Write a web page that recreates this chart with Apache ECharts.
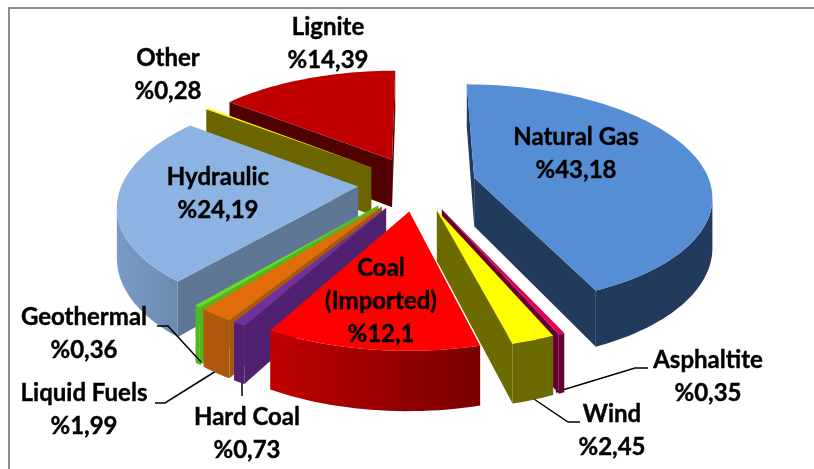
<!DOCTYPE html>
<html>
<head>
<meta charset="utf-8">
<style>
html, body { margin: 0; padding: 0; background: #fff; }
#main { width: 814px; height: 469px; }
</style>
<script src="https://cdn.jsdelivr.net/npm/echarts@6/dist/echarts.min.js"></script>
</head>
<body>
<div id="main"></div>
<script>
// clockwise from the top of the pie
var categories = ['Natural Gas', 'Asphaltite', 'Wind', 'Coal\n(Imported)', 'Hard Coal', 'Liquid Fuels', 'Geothermal', 'Hydraulic', 'Other', 'Lignite'];
var shares = [43.18, 0.35, 2.45, 12.1, 0.73, 1.99, 0.36, 24.19, 0.28, 14.39];

var topColors = ['#558ed5', '#e6005c', '#ffff00', '#ff0000', '#7030a0', '#e36c0a', '#66dd22', '#8db3e2', '#ffff00', '#c00000'];
var cutColors = ['#223a5c', '#660033', '#6b6b00', '#800000', '#4f2170', '#a8570e', '#4fb81e', '#5f7795', '#6b6500', '#4f0000'];
var arcStart = ['#223a5c', '#660033', '#6b6b00', '#780000', '#4f2170', '#a8570e', '#4fb81e', '#6b8ab0', '#6b6500', '#4f0000'];
var arcEnd = ['#223a5c', '#660033', '#6b6b00', '#c00000', '#4f2170', '#b5590c', '#4fb81e', '#7a9bc8', '#6b6500', '#4f0000'];

// back to front
var paintOrder = [9, 8, 7, 0, 6, 5, 4, 1, 2, 3];

// label centres, same order as categories
var labelX = [576, 708, 612, 381, 247, 84, 84, 218, 168, 328];
var labelY = [154, 377, 431, 301, 434, 410, 334, 194, 75, 44];

var leaderLines = [
    [[157, 326], [168, 326], [201, 362]],
    [[155, 403], [165, 403], [224, 366]],
    [[242, 396], [242, 375]],
    [[580, 422], [568, 422], [528, 395]],
    [[648, 368], [635, 368], [556, 392]]
];
// the geothermal line runs over the hydraulic wall, the others start under their slice
var leaderZ = [20, 1, 1, 1, 1];

// pie projection
var cx = 417, cy = 183.5, radiusX = 236, radiusY = 109;
var perspective = 0.15, explode = 0.25, depth = 49;

function project(x, y) {
    var w = 1 + perspective * y;
    return {
        x: cx + radiusX * x / w,
        y: cy - radiusY * y / w,
        d: depth / w
    };
}

var total = shares.reduce(function(a, b) { return a + b; }, 0);

function sliceOutline(index) {
    var before = 0;
    for (var i = 0; i < index; i++) before += shares[i];
    var a0 = before / total * Math.PI * 2;
    var a1 = (before + shares[index]) / total * Math.PI * 2;
    var mid = (a0 + a1) / 2;
    var ox = explode * Math.sin(mid), oy = explode * Math.cos(mid);
    var steps = Math.max(2, Math.ceil((a1 - a0) / 0.03));
    var pts = [project(ox, oy)];
    for (var s = 0; s <= steps; s++) {
        var a = a0 + (a1 - a0) * s / steps;
        pts.push(project(ox + Math.sin(a), oy + Math.cos(a)));
    }
    return pts;
}

function wallPoints(run) {
    var upper = run.map(function(p) { return [p.x, p.y]; });
    var lower = run.slice().reverse().map(function(p) { return [p.x, p.y + p.d]; });
    return upper.concat(lower);
}

function renderSlice(params, api) {
    var index = api.value(0);
    var pts = sliceOutline(index);
    var children = [];
    var n = pts.length;

    // a wall shows only where the clockwise outline runs leftwards
    function cutWall(p, q) {
        if (q.x < p.x) {
            children.push({
                type: 'polygon',
                shape: { points: wallPoints([p, q]) },
                style: { fill: cutColors[index] }
            });
        }
    }
    cutWall(pts[0], pts[1]);
    cutWall(pts[n - 1], pts[0]);

    var run = [];
    for (var i = 1; i < n; i++) {
        if (i < n - 1 && pts[i + 1].x < pts[i].x) {
            run.push(pts[i]);
        } else if (run.length) {
            run.push(pts[i]);
            children.push({
                type: 'polygon',
                shape: { points: wallPoints(run) },
                style: {
                    fill: new echarts.graphic.LinearGradient(1, 0, 0, 0, [
                        { offset: 0, color: arcStart[index] },
                        { offset: 1, color: arcEnd[index] }
                    ])
                }
            });
            run = [];
        }
    }

    children.push({
        type: 'polygon',
        shape: {
            points: pts.map(function(p) { return [p.x, p.y]; })
        },
        style: { fill: topColors[index] }
    });
    return { type: 'group', children: children };
}

var graphicItems = [
    {
        type: 'polyline',
        z: 1,
        shape: { points: [[9, 469], [9, 8], [814, 8]] },
        style: { stroke: '#8c8c8c', lineWidth: 2, fill: null }
    }
];

leaderLines.forEach(function(line, i) {
    graphicItems.push({
        type: 'polyline',
        z: leaderZ[i],
        shape: { points: line },
        style: { stroke: '#000', lineWidth: 1.5, fill: null }
    });
});

categories.forEach(function(name, i) {
    graphicItems.push({
        type: 'text',
        z: 30,
        x: labelX[i],
        y: labelY[i],
        style: {
            text: name + '\n%' + String(shares[i]).replace('.', ','),
            fill: '#000',
            stroke: '#000',
            lineWidth: 0.4,
            font: 'bold 24px Lato',
            lineHeight: 33,
            align: 'center',
            verticalAlign: 'middle'
        }
    });
});

var myChart = echarts.init(document.getElementById('main'));
var option = {
    animation: false,
    backgroundColor: '#fff',
    graphic: graphicItems,
    series: [{
        type: 'custom',
        coordinateSystem: 'none',
        silent: true,
        z: 5,
        renderItem: renderSlice,
        data: paintOrder.map(function(i) { return [i, shares[i]]; })
    }]
};
myChart.setOption(option);
</script>
</body>
</html>
